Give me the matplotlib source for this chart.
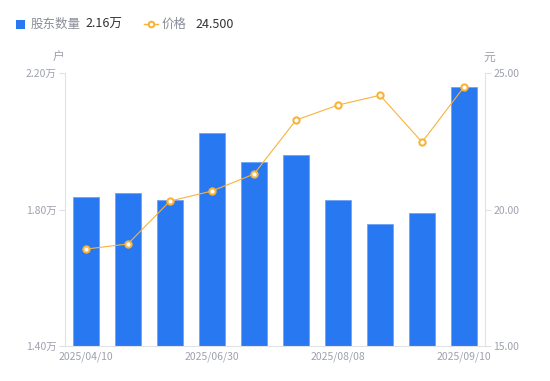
import matplotlib.pyplot as plt
from matplotlib.lines import Line2D

plt.rcParams['font.family'] = ['Noto Sans CJK SC', 'DejaVu Sans']

# --- data ---
date_labels = ["2025/04/10", "", "", "2025/06/30", "", "", "2025/08/08", "", "", "2025/09/10"]
holders = [1.836, 1.848, 1.828, 2.024, 1.939, 1.960, 1.828, 1.757, 1.789, 2.160]   # 万户
price = [18.55, 18.74, 20.31, 20.68, 21.30, 23.28, 23.83, 24.19, 22.47, 24.50]     # 元
left_ticks = [1.40, 1.80, 2.20]
right_ticks = [15.0, 20.0, 25.0]

BLUE = "#2878F2"
ORANGE = "#F8B33A"
GRAY = "#9EA1AE"
AXIS = "#E0E2E6"

fig = plt.figure(figsize=(5.5, 3.81), dpi=100)
ax = fig.add_axes([0.118, 0.092, 0.764, 0.716])
ax2 = ax.twinx()

x = list(range(len(holders)))
ax.bar(x, holders, width=0.6, color=BLUE, edgecolor="#6FA3F7", linewidth=0.6, zorder=2)
ax.set_xlim(-0.5, len(holders) - 0.5)
ax.set_ylim(1.40, 2.20)
ax.set_yticks(left_ticks)
ax.set_yticklabels([f"{v:.2f}万" for v in left_ticks])

ax2.plot(x, price, color=ORANGE, linewidth=0.8, marker="o", markersize=4.5,
         markerfacecolor="white", markeredgecolor=ORANGE, markeredgewidth=1.5, zorder=3)
ax2.set_ylim(15, 25)
ax2.set_yticks(right_ticks)
ax2.set_yticklabels([f"{v:.2f}" for v in right_ticks])

ax.set_xticks(x)
ax.set_xticklabels(date_labels)
ax.tick_params(axis="x", length=0, labelsize=7.5, labelcolor=GRAY, pad=4)
ax.tick_params(axis="y", length=4, width=0.8, color=AXIS, labelsize=7.5, labelcolor=GRAY, pad=2)
ax2.tick_params(axis="y", length=4, width=0.8, color=AXIS, labelsize=7.5, labelcolor=GRAY, pad=2)

for a in (ax, ax2):
    for s in a.spines.values():
        s.set_visible(False)
ax.spines["left"].set_visible(True)
ax.spines["bottom"].set_visible(True)
ax2.spines["right"].set_visible(True)
ax.spines["left"].set_color(AXIS)
ax.spines["bottom"].set_color(AXIS)
ax2.spines["right"].set_color(AXIS)

# unit labels
fig.text(0.106, 0.85, "户", fontsize=8.5, color=GRAY, ha="center", va="center")
fig.text(0.89, 0.85, "元", fontsize=8.5, color=GRAY, ha="center", va="center")

# legend at top
fig.add_artist(plt.Rectangle((0.029, 0.924), 0.016, 0.024, transform=fig.transFigure,
                             facecolor=BLUE, edgecolor="none"))
fig.text(0.055, 0.936, "股东数量", fontsize=9, color="#8A8D99", va="center")
fig.text(0.155, 0.936, f"{holders[-1]:.2f}万", fontsize=9, color="#333333", va="center")
fig.add_artist(Line2D([0.262, 0.288], [0.936, 0.936], transform=fig.transFigure,
                      color=ORANGE, linewidth=1))
fig.add_artist(Line2D([0.275], [0.936], transform=fig.transFigure, color=ORANGE,
                      marker="o", markersize=4, markerfacecolor="white",
                      markeredgewidth=1.5, linestyle="none"))
fig.text(0.293, 0.936, "价格", fontsize=9, color="#8A8D99", va="center")
fig.text(0.355, 0.936, f"{price[-1]:.3f}", fontsize=9, color="#333333", va="center")

fig.savefig("out.png", dpi=100)
